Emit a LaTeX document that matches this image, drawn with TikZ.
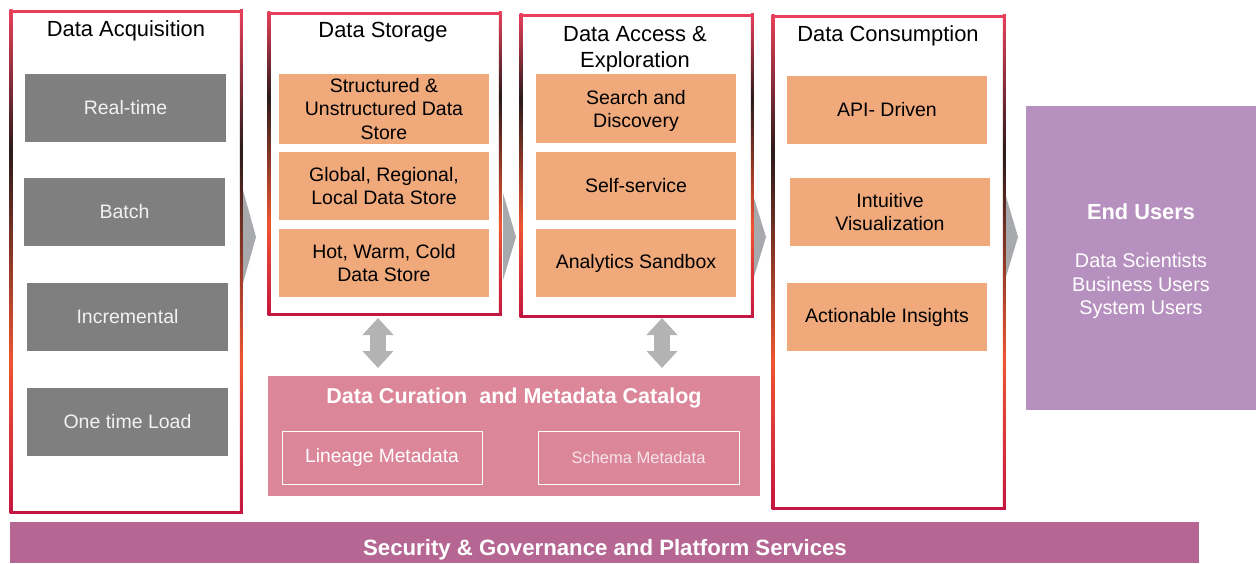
\documentclass[tikz,border=0pt]{standalone}
\usepackage{fontspec}
\setmainfont{Liberation Sans}
\usetikzlibrary{calc,arrows.meta}
\definecolor{fred}{HTML}{E8405A}
\definecolor{fdark}{HTML}{2B1B1B}
\definecolor{forng}{HTML}{EE5533}
\definecolor{fcrim}{HTML}{C41640}
\definecolor{boxgray}{HTML}{7F7F7F}
\definecolor{boxtxt}{HTML}{F2F2F2}
\definecolor{boxorg}{HTML}{EFA97B}
\definecolor{eucol}{HTML}{B690BE}
\definecolor{curcol}{HTML}{DC8699}
\definecolor{barcol}{HTML}{B56693}
\definecolor{chevcol}{HTML}{A7A9AC}
\definecolor{dblcol}{HTML}{B3B3B3}
\definecolor{schtxt}{HTML}{F7E3EA}
\pgfdeclareverticalshading{frameside}{100bp}{color(0bp)=(fcrim); color(25bp)=(fcrim); color(40bp)=(forng); color(61bp)=(fdark); color(75bp)=(fred); color(100bp)=(fred)}
\newcommand\colframe[1]{%
  \shade[shading=frameside] ($(#1.north west)+(-1.5,-1.5)$) rectangle ($(#1.south west)+(1.5,1.5)$);
  \shade[shading=frameside] ($(#1.north east)+(-1.5,-1.5)$) rectangle ($(#1.south east)+(1.5,1.5)$);
  \draw[fred, line width=3pt] ($(#1.north west)+(-1.5,0)$) -- ($(#1.north east)+(1.5,0)$);
  \draw[fcrim, line width=3pt] ($(#1.south west)+(-1.5,0)$) -- ($(#1.south east)+(1.5,0)$);
}
\tikzset{
  frame/.style={draw=none, inner sep=0pt, anchor=north west},
  coltitle/.style={font=\fontsize{21.9}{26}\selectfont, align=center, inner sep=0pt},
  gbox/.style={fill=boxgray, text=boxtxt, minimum width=201pt, minimum height=68pt, inner sep=0pt, font=\fontsize{19.5}{23.5}\selectfont, align=center},
  obox/.style={fill=boxorg, text=black, minimum width=200pt, minimum height=68pt, inner sep=0pt, font=\fontsize{19.5}{23.5}\selectfont, align=center},
  otext/.style={text=black, inner sep=0pt, font=\fontsize{19.5}{23.5}\selectfont, align=center},
  metabox/.style={draw=white, line width=0.8pt, minimum width=200pt, minimum height=53pt, inner sep=0pt, align=center},
  chev/.style={fill=chevcol},
  dbl/.style={draw=dblcol, line width=16pt, {Triangle[length=17pt,width=30pt]}-{Triangle[length=17pt,width=30pt]}}
}
\begin{document}
\begin{tikzpicture}[x=1pt,y=-1pt]
\useasboundingbox (0,0) rectangle (1256,563);
% chevrons
\fill[chev] (243,190) -- (256,237) -- (243,283) -- cycle;
\fill[chev] (503,193) -- (516,237) -- (503,280) -- cycle;
\fill[chev] (753,195) -- (766,237) -- (753,280) -- cycle;
\fill[chev] (1005,193) -- (1018,237) -- (1005,280) -- cycle;
% frames
\node[frame, minimum width=230pt, minimum height=501pt] (c1) at (11,11) {};
\node[frame, minimum width=231pt, minimum height=301pt] (c2) at (269,13) {};
\node[frame, minimum width=231pt, minimum height=301pt] (c3) at (521,15) {};
\node[frame, minimum width=231pt, minimum height=492pt] (c4) at (773,16) {};
\colframe{c1}\colframe{c2}\colframe{c3}\colframe{c4}
% titles
\node[coltitle] (t1) at (126,31) {Data Acquisition};
\node[coltitle] (t2) at (383,32) {Data Storage};
\node[coltitle] (t3) at (635,49) {Data Access \&\\Exploration};
\node[coltitle] (t4) at (888,36) {Data Consumption};
% column 1
\node[gbox] (rt) at (125.5,108) {Real-time};
\node[gbox] (ba) at (124.5,212) {Batch};
\node[gbox] (in) at (127.5,317) {Incremental};
\node[gbox] (ot) at (127.5,422) {One time Load};
% column 2
\node[obox, minimum width=210pt, minimum height=70pt] (s1) at (384,109) {Structured \&\\Unstructured Data\\Store};
\node[obox, minimum width=210pt] (s2) at (384,186) {Global, Regional,\\Local Data Store};
\node[obox, minimum width=210pt] (s3) at (384,263) {Hot, Warm, Cold\\Data Store};
% column 3
\node[obox, minimum height=69pt] (a1) at (636,108.5) {};
\node[otext] (a1t) at ($(a1.center)+(0,2.5)$) {Search and\\Discovery};
\node[obox] (a2) at (636,186) {Self-service};
\node[obox] (a3) at (636,263) {Analytics Sandbox};
% column 4
\node[obox] (d1) at (887,110) {API- Driven};
\node[obox] (d2) at (890,212) {Intuitive\\Visualization};
\node[obox] (d3) at (887,317) {Actionable Insights};
% end users
\node[fill=eucol, minimum width=230pt, minimum height=304pt, inner sep=0pt] (eu) at (1141,258) {};
\node[text=white, font=\fontsize{21.8}{26}\selectfont\bfseries, inner sep=0pt] (eut) at (1141,212) {End Users};
\node[text=white, font=\fontsize{19.8}{23.5}\selectfont, align=center, inner sep=0pt] (eul) at (1141,286) {Data Scientists\\Business Users\\System Users};
% curation
\node[fill=curcol, minimum width=492pt, minimum height=120pt, inner sep=0pt] (cur) at (514,436) {};
\node[text=white, font=\fontsize{21.5}{25}\selectfont\bfseries, inner sep=0pt] (curt) at (514,397.5) {Data Curation\ \ and Metadata Catalog};
\node[metabox, text=white, font=\fontsize{19.2}{23}\selectfont] (lin) at (382,457.5) {Lineage Metadata};
\node[metabox, minimum width=201pt, text=schtxt, font=\fontsize{16.5}{20}\selectfont] (sch) at (638.5,457.5) {Schema Metadata};
% double arrows
\coordinate (da1t) at (378,318);
\coordinate (da1b) at (378,368);
\coordinate (da2t) at (662,318);
\coordinate (da2b) at (662,368);
\draw[dbl] (da1t) -- (da1b);
\draw[dbl] (da2t) -- (da2b);
% bottom bar
\node[fill=barcol, minimum width=1189pt, minimum height=41pt, inner sep=0pt] (bar) at (604.5,542.5) {};
\node[text=white, font=\fontsize{22.2}{26}\selectfont\bfseries, inner sep=0pt] (bart) at (605,549.5) {Security \& Governance and Platform Services};
\end{tikzpicture}
\end{document}
